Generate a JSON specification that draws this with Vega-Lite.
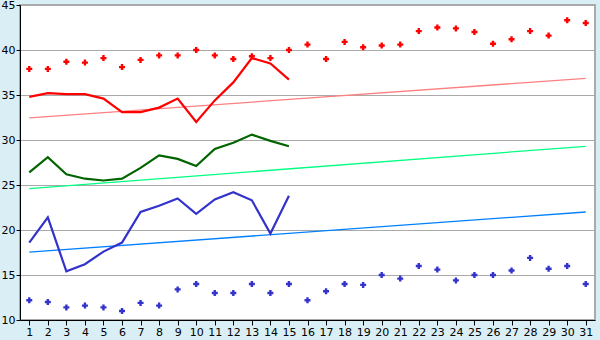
{
  "$schema": "https://vega.github.io/schema/vega-lite/v6.json",
  "width": 575,
  "height": 315,
  "autosize": {"type": "none"},
  "padding": {"left": 20, "top": 5, "right": 5, "bottom": 20},
  "background": "#daeef5",
  "config": {
    "view": {"fill": "white", "stroke": "#aaaaaa", "strokeWidth": 2},
    "axis": {"labelFont": "DejaVu Sans", "labelFontSize": 11, "labelColor": "black", "domainColor": "black", "tickColor": "black", "gridColor": "#aaaaaa", "title": null}
  },
  "datasets": {
    "trend": [
      {"day": 1, "value": 32.45, "s": "rt"}, {"day": 31, "value": 36.85, "s": "rt"},
      {"day": 1, "value": 24.6, "s": "gt"}, {"day": 31, "value": 29.3, "s": "gt"},
      {"day": 1, "value": 17.55, "s": "bt"}, {"day": 31, "value": 22.0, "s": "bt"}
    ],
    "lines": [
      {"day": 1, "value": 34.8, "s": "r"}, {"day": 2, "value": 35.2, "s": "r"}, {"day": 3, "value": 35.1, "s": "r"}, {"day": 4, "value": 35.1, "s": "r"}, {"day": 5, "value": 34.6, "s": "r"}, {"day": 6, "value": 33.1, "s": "r"}, {"day": 7, "value": 33.1, "s": "r"}, {"day": 8, "value": 33.6, "s": "r"}, {"day": 9, "value": 34.6, "s": "r"}, {"day": 10, "value": 32.0, "s": "r"}, {"day": 11, "value": 34.4, "s": "r"}, {"day": 12, "value": 36.4, "s": "r"}, {"day": 13, "value": 39.1, "s": "r"}, {"day": 14, "value": 38.5, "s": "r"}, {"day": 15, "value": 36.7, "s": "r"},
      {"day": 1, "value": 26.4, "s": "g"}, {"day": 2, "value": 28.1, "s": "g"}, {"day": 3, "value": 26.2, "s": "g"}, {"day": 4, "value": 25.7, "s": "g"}, {"day": 5, "value": 25.5, "s": "g"}, {"day": 6, "value": 25.7, "s": "g"}, {"day": 7, "value": 26.9, "s": "g"}, {"day": 8, "value": 28.3, "s": "g"}, {"day": 9, "value": 27.9, "s": "g"}, {"day": 10, "value": 27.1, "s": "g"}, {"day": 11, "value": 29.0, "s": "g"}, {"day": 12, "value": 29.7, "s": "g"}, {"day": 13, "value": 30.6, "s": "g"}, {"day": 14, "value": 29.9, "s": "g"}, {"day": 15, "value": 29.3, "s": "g"},
      {"day": 1, "value": 18.6, "s": "b"}, {"day": 2, "value": 21.4, "s": "b"}, {"day": 3, "value": 15.4, "s": "b"}, {"day": 4, "value": 16.2, "s": "b"}, {"day": 5, "value": 17.6, "s": "b"}, {"day": 6, "value": 18.6, "s": "b"}, {"day": 7, "value": 22.0, "s": "b"}, {"day": 8, "value": 22.7, "s": "b"}, {"day": 9, "value": 23.5, "s": "b"}, {"day": 10, "value": 21.8, "s": "b"}, {"day": 11, "value": 23.4, "s": "b"}, {"day": 12, "value": 24.2, "s": "b"}, {"day": 13, "value": 23.3, "s": "b"}, {"day": 14, "value": 19.6, "s": "b"}, {"day": 15, "value": 23.8, "s": "b"}
    ],
    "dots": [
      {"day": 1, "value": 37.9, "s": "rd"}, {"day": 2, "value": 37.9, "s": "rd"}, {"day": 3, "value": 38.7, "s": "rd"}, {"day": 4, "value": 38.6, "s": "rd"}, {"day": 5, "value": 39.1, "s": "rd"}, {"day": 6, "value": 38.1, "s": "rd"}, {"day": 7, "value": 38.9, "s": "rd"}, {"day": 8, "value": 39.4, "s": "rd"}, {"day": 9, "value": 39.4, "s": "rd"}, {"day": 10, "value": 40.0, "s": "rd"}, {"day": 11, "value": 39.4, "s": "rd"}, {"day": 12, "value": 39.0, "s": "rd"}, {"day": 13, "value": 39.3, "s": "rd"}, {"day": 14, "value": 39.1, "s": "rd"}, {"day": 15, "value": 40.0, "s": "rd"}, {"day": 16, "value": 40.6, "s": "rd"}, {"day": 17, "value": 39.0, "s": "rd"}, {"day": 18, "value": 40.9, "s": "rd"}, {"day": 19, "value": 40.3, "s": "rd"}, {"day": 20, "value": 40.5, "s": "rd"}, {"day": 21, "value": 40.6, "s": "rd"}, {"day": 22, "value": 42.1, "s": "rd"}, {"day": 23, "value": 42.5, "s": "rd"}, {"day": 24, "value": 42.4, "s": "rd"}, {"day": 25, "value": 42.0, "s": "rd"}, {"day": 26, "value": 40.7, "s": "rd"}, {"day": 27, "value": 41.2, "s": "rd"}, {"day": 28, "value": 42.1, "s": "rd"}, {"day": 29, "value": 41.6, "s": "rd"}, {"day": 30, "value": 43.3, "s": "rd"}, {"day": 31, "value": 43.0, "s": "rd"},
      {"day": 1, "value": 12.2, "s": "bd"}, {"day": 2, "value": 12.0, "s": "bd"}, {"day": 3, "value": 11.4, "s": "bd"}, {"day": 4, "value": 11.6, "s": "bd"}, {"day": 5, "value": 11.4, "s": "bd"}, {"day": 6, "value": 11.0, "s": "bd"}, {"day": 7, "value": 11.9, "s": "bd"}, {"day": 8, "value": 11.6, "s": "bd"}, {"day": 9, "value": 13.4, "s": "bd"}, {"day": 10, "value": 14.0, "s": "bd"}, {"day": 11, "value": 13.0, "s": "bd"}, {"day": 12, "value": 13.0, "s": "bd"}, {"day": 13, "value": 14.0, "s": "bd"}, {"day": 14, "value": 13.0, "s": "bd"}, {"day": 15, "value": 14.0, "s": "bd"}, {"day": 16, "value": 12.2, "s": "bd"}, {"day": 17, "value": 13.2, "s": "bd"}, {"day": 18, "value": 14.0, "s": "bd"}, {"day": 19, "value": 13.9, "s": "bd"}, {"day": 20, "value": 15.0, "s": "bd"}, {"day": 21, "value": 14.6, "s": "bd"}, {"day": 22, "value": 16.0, "s": "bd"}, {"day": 23, "value": 15.6, "s": "bd"}, {"day": 24, "value": 14.4, "s": "bd"}, {"day": 25, "value": 15.0, "s": "bd"}, {"day": 26, "value": 15.0, "s": "bd"}, {"day": 27, "value": 15.5, "s": "bd"}, {"day": 28, "value": 16.9, "s": "bd"}, {"day": 29, "value": 15.7, "s": "bd"}, {"day": 30, "value": 16.0, "s": "bd"}, {"day": 31, "value": 14.0, "s": "bd"}
    ]
  },
  "encoding": {
    "x": {
      "field": "day", "type": "quantitative",
      "scale": {"domain": [0.5, 31.5], "nice": false, "zero": false},
      "axis": {"values": [1,2,3,4,5,6,7,8,9,10,11,12,13,14,15,16,17,18,19,20,21,22,23,24,25,26,27,28,29,30,31], "grid": false, "tickSize": 5, "labelPadding": 1, "labelFlush": false, "labelOverlap": false, "domainWidth": 1}
    },
    "y": {
      "field": "value", "type": "quantitative",
      "scale": {"domain": [10, 45], "nice": false, "zero": false},
      "axis": {"values": [10, 15, 20, 25, 30, 35, 40, 45], "grid": true, "tickSize": 4, "labelPadding": 1, "labelFlush": false, "domainWidth": 1}
    },
    "color": {
      "field": "s", "type": "nominal", "legend": null,
      "scale": {"domain": ["rt", "gt", "bt", "r", "g", "b", "rd", "bd"], "range": ["#ff8080", "#00ff80", "#0080ff", "#ff0000", "#006400", "#3333cc", "#ff0000", "#3333cc"]}
    }
  },
  "layer": [
    {"data": {"name": "trend"}, "mark": {"type": "line", "strokeWidth": 1.3}, "encoding": {"detail": {"field": "s"}}},
    {"data": {"name": "lines"}, "mark": {"type": "line", "strokeWidth": 2.2}, "encoding": {"detail": {"field": "s"}}},
    {"data": {"name": "dots"}, "mark": {"type": "point", "shape": "cross", "filled": true, "size": 36, "opacity": 1}}
  ]
}
